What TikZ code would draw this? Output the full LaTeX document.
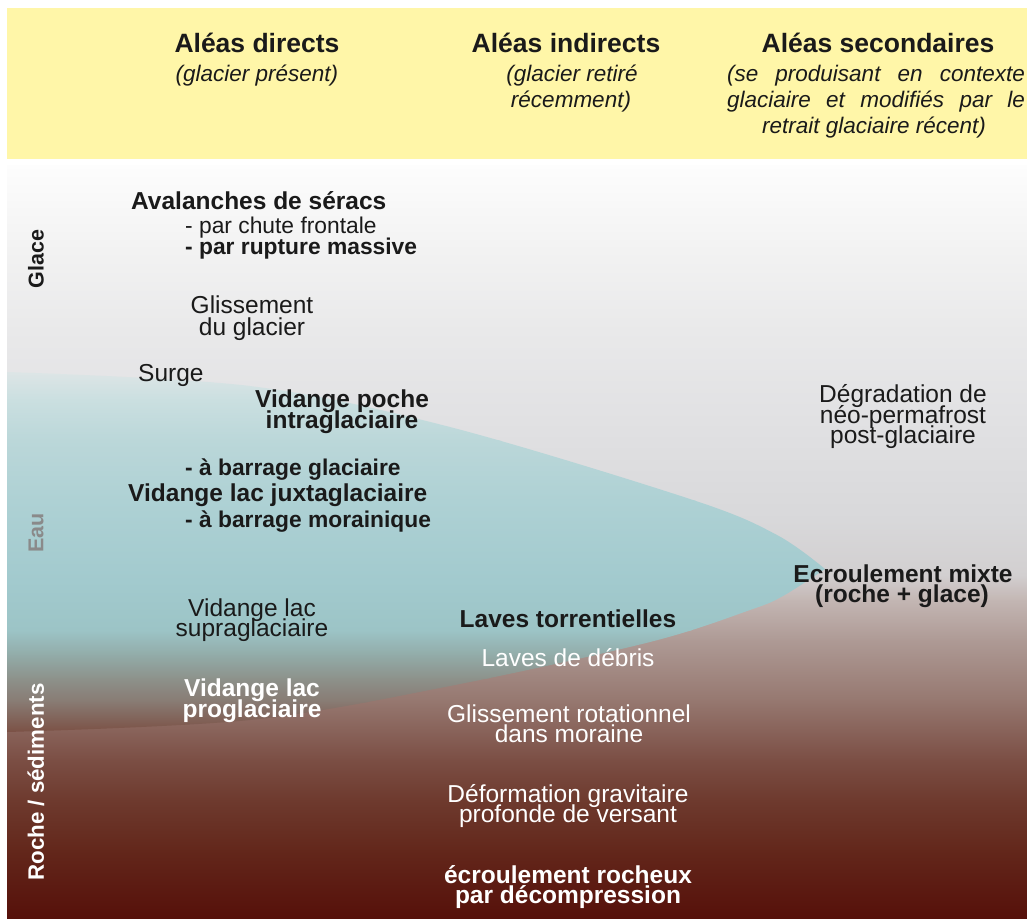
\documentclass[tikz,border=0pt]{standalone}
\usepackage{fontspec}
\setmainfont{Liberation Sans}
\definecolor{hdr}{HTML}{FFF6A8}
\definecolor{txt}{HTML}{1A1A1A}
\definecolor{eaugray}{HTML}{8A8A8A}
\tikzset{
  body/.style={font=\fontsize{24.5}{24.5}\selectfont, anchor=base, inner sep=0pt, text=txt},
  bodyb/.style={body, font=\fontsize{24.5}{24.5}\selectfont\bfseries},
  item/.style={body, font=\fontsize{22.8}{22.8}\selectfont, anchor=base west},
  itemb/.style={body, font=\fontsize{22.8}{22.8}\selectfont\bfseries, anchor=base west},
  wbody/.style={body, text=white},
  wbodyb/.style={bodyb, text=white},
  head/.style={font=\fontsize{26.5}{26.5}\selectfont\bfseries, anchor=base, inner sep=0pt, text=txt},
  sub/.style={font=\fontsize{22.5}{22.5}\selectfont\itshape, anchor=base, inner sep=0pt, text=txt},
  side/.style={font=\fontsize{21.5}{21.5}\selectfont\bfseries, rotate=90, inner sep=0pt, anchor=center},
}
\def\lenspath{plot[smooth,tension=.55] coordinates {(7,372) (250,386) (450,427) (693,500) (777,535) (825,569)} -- plot[smooth,tension=.55] coordinates {(825,569) (783,596) (750,610) (650,642) (450,686) (250,720) (7,732)} -- cycle}
\begin{document}
\begin{tikzpicture}[x=1pt,y=-1pt]
\useasboundingbox (0,0) rectangle (1027,918);
\fill[white] (0,0) rectangle (1027,918);
% header band
\fill[hdr] (7,8) rectangle (1027,159);
% background gradient (ice -> rock)
\foreach \ya/\ca/\yb/\cb in {165/FDFDFD/250/F2F2F2, 250/F2F2F2/330/E9E9EA, 330/E9E9EA/420/E1E1E3, 420/E1E1E3/520/D8D8DA, 520/D8D8DA/575/D2CFD0, 575/D2CFD0/600/C3B6B3, 600/C3B6B3/640/AE9A95, 640/AE9A95/700/967870, 700/967870/760/7B4E44, 760/7B4E44/800/6E3A2E, 800/6E3A2E/850/63271B, 850/63271B/918/56100A}{
  \definecolor{ctop}{HTML}{\ca}\definecolor{cbot}{HTML}{\cb}
  \shade[top color=ctop, bottom color=cbot] (7,\ya) rectangle (1027,\yb+0.7);
}
% water lens
\begin{scope}
\clip \lenspath;
\foreach \ya/\ca/\yb/\cb in {372/DDE5E6/400/CADFE0, 400/CADFE0/440/BBD7D9, 440/BBD7D9/500/AED1D4, 500/AED1D4/580/A2CACE, 580/A2CACE/630/9CC4C6, 630/9CC4C6/655/92ABA8, 655/92ABA8/678/8D928B, 678/8D928B/702/887A72, 702/887A72/735/7A4C40}{
  \definecolor{ctop}{HTML}{\ca}\definecolor{cbot}{HTML}{\cb}
  \shade[top color=ctop, bottom color=cbot] (7,\ya) rectangle (830,\yb+0.7);
}
\end{scope}
% headings
\node[head] (h1) at (257,52) {Aléas directs};
\node[head] (h2) at (566,52) {Aléas indirects};
\node[head] (h3) at (878,52) {Aléas secondaires};
\node[sub] (s1) at (257,81) {(glacier présent)};
\node[sub] (s2a) at (572,81) {(glacier retiré};
\node[sub] (s2b) at (571,107) {récemment)};
\node[sub] (s3a) at (876,81) {\makebox[298pt][s]{(se produisant en contexte}};
\node[sub] (s3b) at (876,107) {\makebox[298pt][s]{glaciaire et modifiés par le}};
\node[sub] (s3c) at (874,133) {retrait glaciaire récent)};
% side labels
\node[side, text=txt] (lglace) at (36,259) {Glace};
\node[side, text=eaugray] (leau) at (36,533) {Eau};
\node[side, text=white, font=\fontsize{22.3}{22.3}\selectfont\bfseries] (lroche) at (36,782) {Roche / sédiments};
% column 1
\node[bodyb, anchor=base west] (av) at (131,209) {Avalanches de séracs};
\node[item] (av1) at (185,233) {- par chute frontale};
\node[itemb] (av2) at (185,254) {- par rupture massive};
\node[body] (gl1) at (252,313) {Glissement};
\node[body] (gl2) at (252,335) {du glacier};
\node[body, anchor=base west] (surge) at (138,381) {Surge};
\node[bodyb] (vp1) at (342,407) {Vidange poche};
\node[bodyb] (vp2) at (342,428) {intraglaciaire};
\node[itemb] (vj1) at (185,475) {- à barrage glaciaire};
\node[bodyb, anchor=base west] (vj) at (128,501) {Vidange lac juxtaglaciaire};
\node[itemb] (vj2) at (185,527) {- à barrage morainique};
\node[body] (vs1) at (252,616) {Vidange lac};
\node[body] (vs2) at (252,636) {supraglaciaire};
\node[wbodyb] (vg1) at (252,696) {Vidange lac};
\node[wbodyb] (vg2) at (252,717) {proglaciaire};
% column 2
\node[bodyb] (lt) at (568,627) {Laves torrentielles};
\node[wbody] (ld) at (568,666) {Laves de débris};
\node[wbody] (gr1) at (569,722) {Glissement rotationnel};
\node[wbody] (gr2) at (569,742) {dans moraine};
\node[wbody] (dg1) at (568,802) {Déformation gravitaire};
\node[wbody] (dg2) at (568,822) {profonde de versant};
\node[wbodyb] (er1) at (568,883) {écroulement rocheux};
\node[wbodyb] (er2) at (568,903) {par décompression};
% column 3
\node[body] (dp1) at (903,402) {Dégradation de};
\node[body] (dp2) at (903,423) {néo-permafrost};
\node[body] (dp3) at (903,443) {post-glaciaire};
\node[bodyb] (em1) at (903,582) {Ecroulement mixte};
\node[bodyb] (em2) at (902,602) {(roche + glace)};
\end{tikzpicture}
\end{document}
